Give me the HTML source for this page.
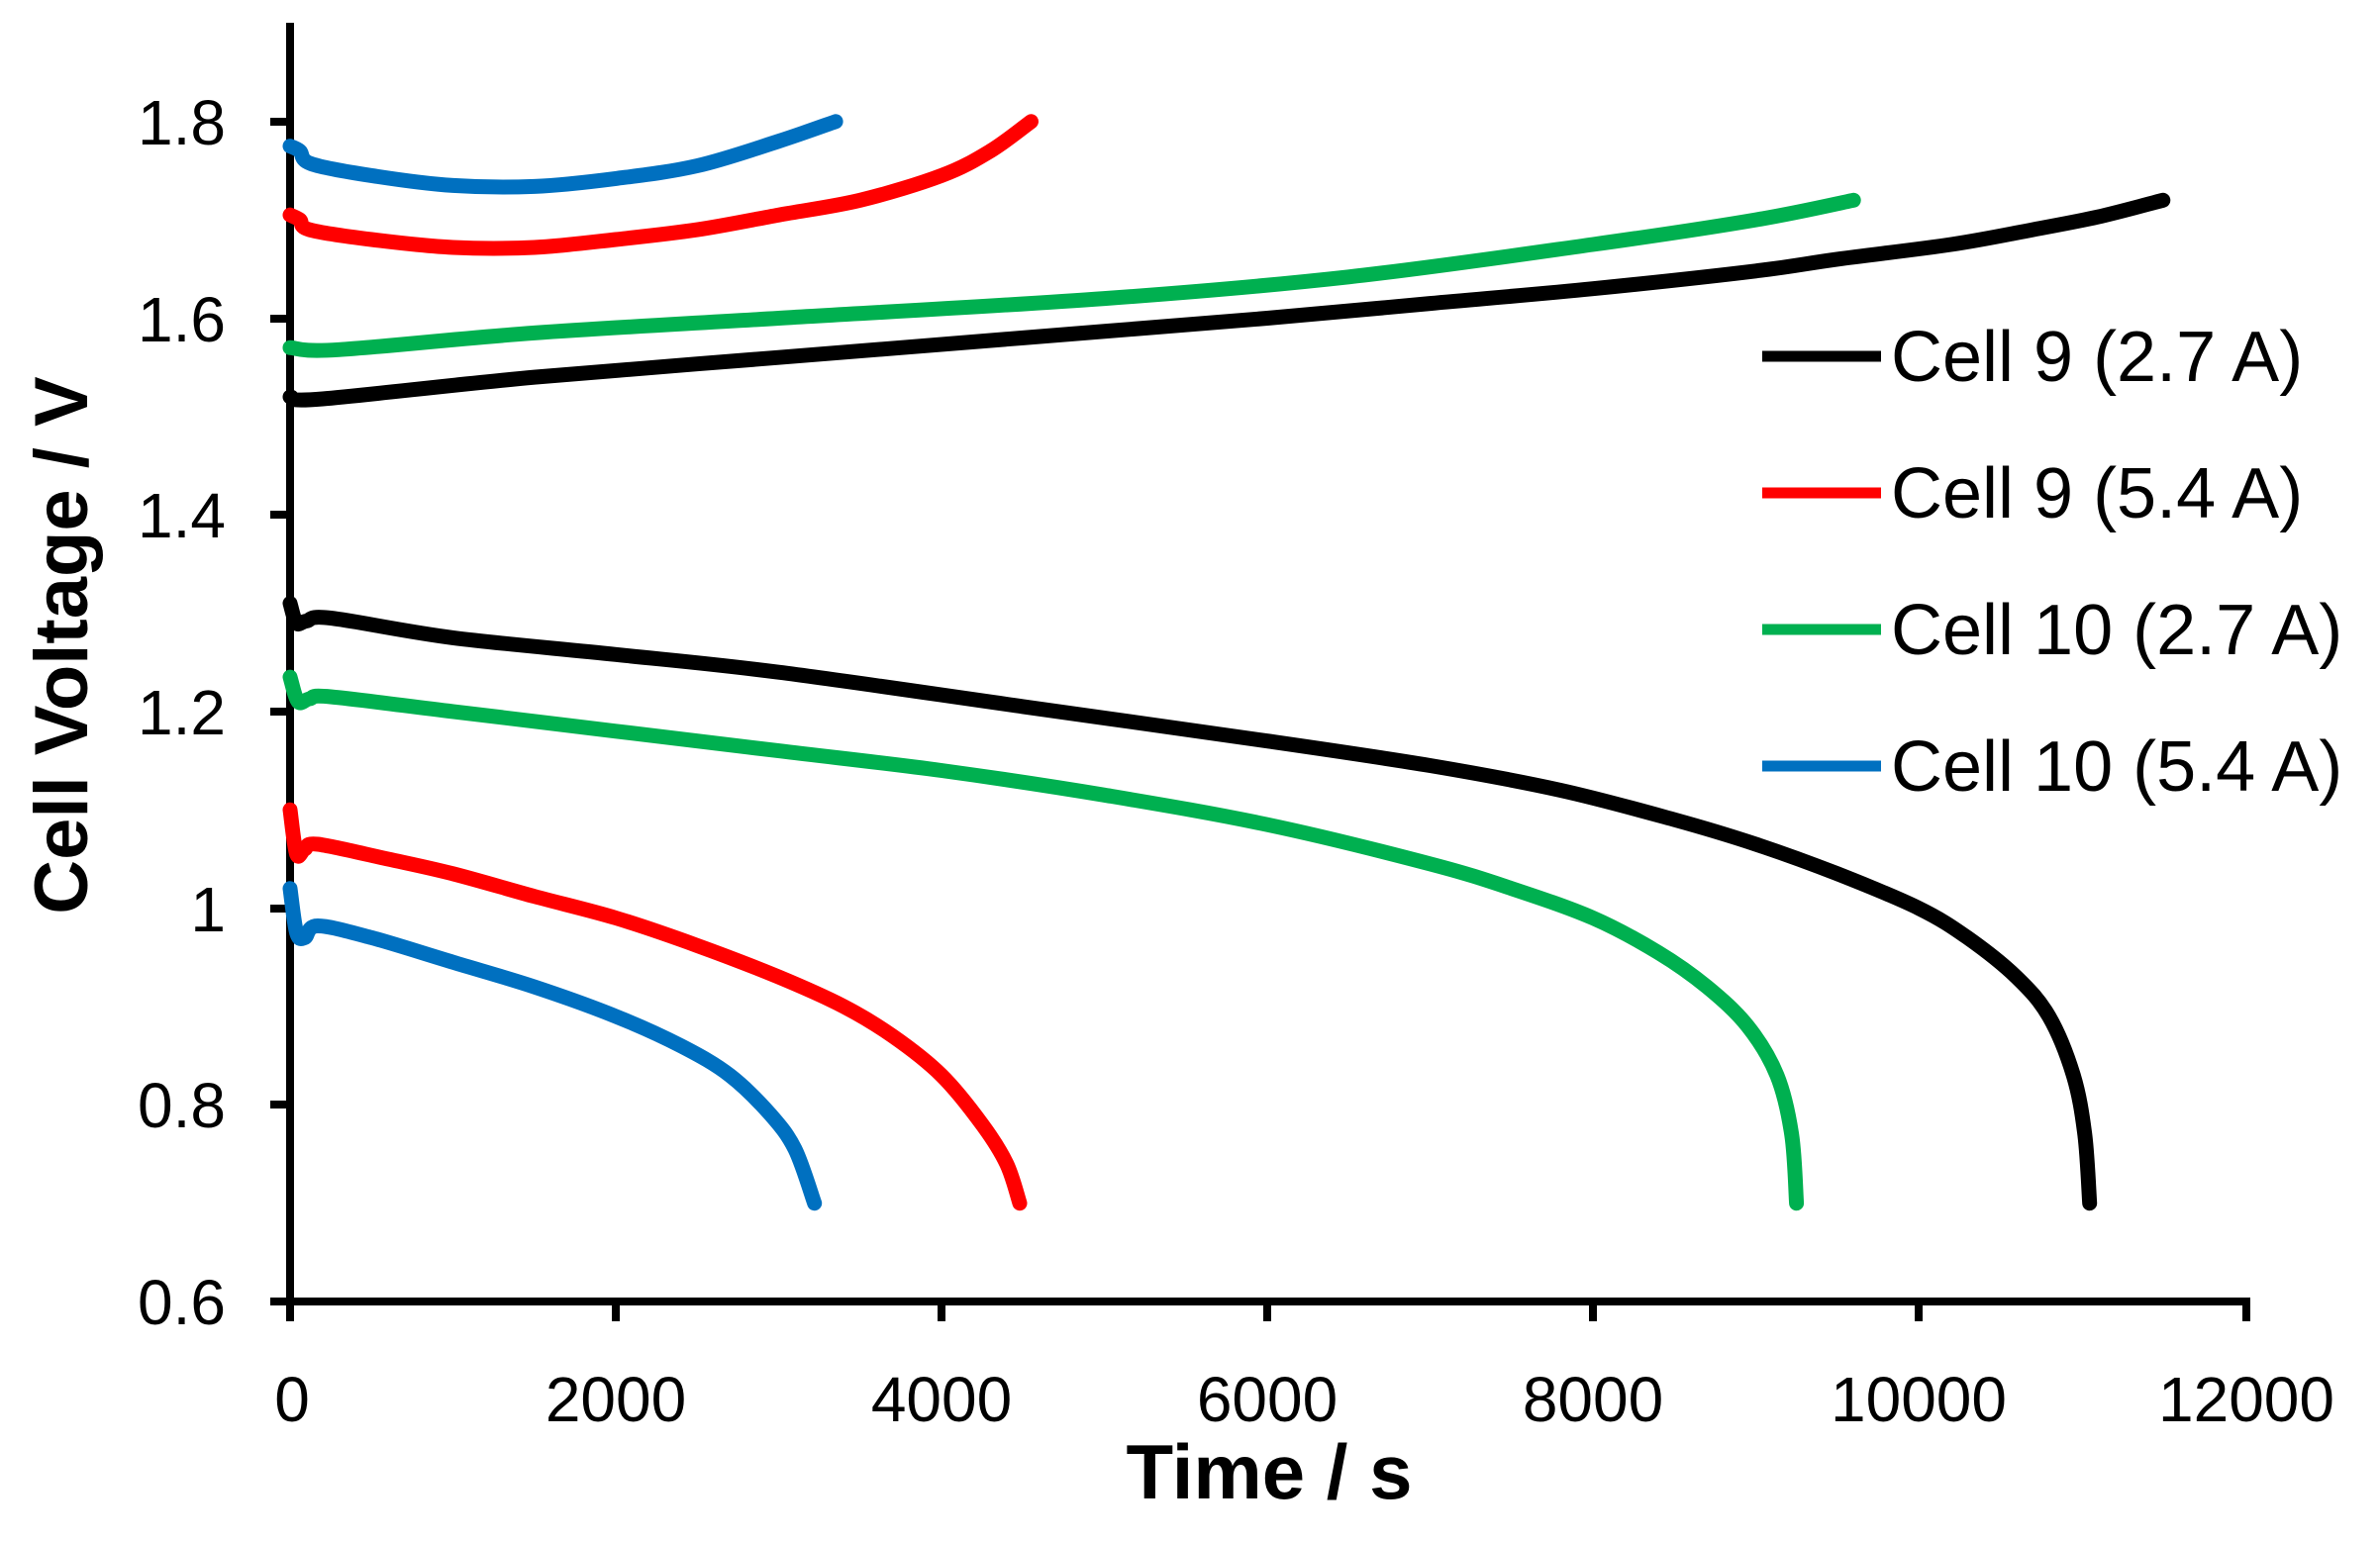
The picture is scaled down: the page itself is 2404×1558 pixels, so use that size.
<!DOCTYPE html>
<html><head><meta charset="utf-8"><style>
html,body{margin:0;padding:0;background:#fff;width:2404px;height:1558px;overflow:hidden}
text{font-family:"Liberation Sans",sans-serif;fill:#000}
</style></head><body>
<svg id="s" width="2404" height="1558" viewBox="0 0 2404 1558" xmlns="http://www.w3.org/2000/svg">
<g stroke="#000" stroke-width="8" fill="none">
<line x1="293" y1="23" x2="293" y2="1335"/>
<line x1="273" y1="1315" x2="2273" y2="1315"/>
<line x1="273" y1="123" x2="293" y2="123"/>
<line x1="273" y1="322" x2="293" y2="322"/>
<line x1="273" y1="520" x2="293" y2="520"/>
<line x1="273" y1="719" x2="293" y2="719"/>
<line x1="273" y1="918" x2="293" y2="918"/>
<line x1="273" y1="1116" x2="293" y2="1116"/>
<line x1="622" y1="1315" x2="622" y2="1335"/>
<line x1="951" y1="1315" x2="951" y2="1335"/>
<line x1="1280" y1="1315" x2="1280" y2="1335"/>
<line x1="1609" y1="1315" x2="1609" y2="1335"/>
<line x1="1938" y1="1315" x2="1938" y2="1335"/>
<line x1="2269" y1="1315" x2="2269" y2="1335"/>
</g>
<g font-size="64" text-anchor="end">
<text x="228" y="146">1.8</text>
<text x="228" y="345">1.6</text>
<text x="228" y="543">1.4</text>
<text x="228" y="742">1.2</text>
<text x="228" y="941">1</text>
<text x="228" y="1139">0.8</text>
<text x="228" y="1338">0.6</text>
</g>
<g font-size="64" text-anchor="middle">
<text x="295" y="1436">0</text>
<text x="622" y="1436">2000</text>
<text x="951" y="1436">4000</text>
<text x="1280" y="1436">6000</text>
<text x="1609" y="1436">8000</text>
<text x="1938" y="1436">10000</text>
<text x="2269" y="1436">12000</text>
</g>
<text x="1282" y="1514" font-size="78" font-weight="bold" text-anchor="middle">Time / s</text>
<text transform="translate(88,652) rotate(-90)" font-size="76" font-weight="bold" text-anchor="middle">Cell Voltage / V</text>
<g id="curves" fill="none" stroke-width="15" stroke-linecap="round" stroke-linejoin="round"></g>
<g stroke-width="11">
<line x1="1780" y1="360" x2="1900" y2="360" stroke="#000"/>
<line x1="1780" y1="498" x2="1900" y2="498" stroke="#ff0000"/>
<line x1="1780" y1="636" x2="1900" y2="636" stroke="#00b050"/>
<line x1="1780" y1="774" x2="1900" y2="774" stroke="#0070c0"/>
</g>
<g font-size="72">
<text x="1910" y="385">Cell 9 (2.7 A)</text>
<text x="1910" y="523">Cell 9 (5.4 A)</text>
<text x="1910" y="661">Cell 10 (2.7 A)</text>
<text x="1910" y="799">Cell 10 (5.4 A)</text>
</g>
</svg>
<script>
var X=t=>293+t*0.1645, Y=v=>1315-(v-0.6)*993.5;
var S=[
["#000",[[0,1.52],[200,1.518],[1500,1.54],[3000,1.56],[4500,1.58],[6000,1.60],[7000,1.615],[8000,1.63],[9000,1.648],[9500,1.66],[10200,1.675],[10700,1.69],[11100,1.703],[11500,1.72]]],
["#00b050",[[0,1.57],[300,1.568],[1500,1.585],[3000,1.60],[5000,1.62],[6500,1.642],[8000,1.675],[9000,1.70],[9600,1.72]]],
["#ff0000",[[0,1.705],[60,1.70],[120,1.69],[500,1.68],[1000,1.672],[1500,1.672],[2000,1.68],[2500,1.69],[3000,1.705],[3500,1.72],[4000,1.745],[4300,1.77],[4550,1.80]]],
["#0070c0",[[0,1.775],[60,1.77],[130,1.757],[500,1.745],[1000,1.735],[1500,1.734],[2000,1.742],[2500,1.755],[3000,1.78],[3350,1.80]]],
["#000",[[0,1.31],[40,1.29],[100,1.292],[250,1.295],[1000,1.275],[2000,1.258],[3000,1.24],[4500,1.205],[6000,1.17],[7000,1.145],[7800,1.12],[8500,1.09],[9000,1.065],[9500,1.035],[10000,1.0],[10300,0.97],[10600,0.93],[10800,0.89],[10950,0.83],[11020,0.77],[11050,0.7]]],
["#00b050",[[0,1.235],[50,1.21],[120,1.213],[250,1.215],[1000,1.2],[2000,1.18],[3000,1.16],[4000,1.14],[5000,1.115],[6000,1.085],[7000,1.045],[7500,1.02],[8000,0.99],[8400,0.955],[8700,0.92],[8950,0.88],[9130,0.83],[9220,0.77],[9250,0.7]]],
["#ff0000",[[0,1.10],[40,1.055],[90,1.06],[170,1.065],[600,1.05],[1000,1.035],[1500,1.012],[2000,0.99],[2500,0.962],[3000,0.93],[3400,0.9],[3700,0.87],[4000,0.83],[4250,0.78],[4400,0.74],[4480,0.7]]],
["#0070c0",[[0,1.02],[40,0.975],[90,0.97],[170,0.982],[500,0.97],[1000,0.945],[1500,0.92],[2000,0.89],[2400,0.86],[2700,0.83],[2950,0.79],[3100,0.755],[3220,0.7]]]
];
var g=document.getElementById('curves');
S.forEach(function(s){
var P=s[1].map(a=>[X(a[0]),Y(a[1])]);
var d='M'+P[0][0].toFixed(1)+','+P[0][1].toFixed(1);
for(var i=0;i<P.length-1;i++){
var p0=P[Math.max(i-1,0)],p1=P[i],p2=P[i+1],p3=P[Math.min(i+2,P.length-1)];
var c1=[p1[0]+(p2[0]-p0[0])/6,p1[1]+(p2[1]-p0[1])/6];
var c2=[p2[0]-(p3[0]-p1[0])/6,p2[1]-(p3[1]-p1[1])/6];
d+=' C'+c1[0].toFixed(1)+','+c1[1].toFixed(1)+' '+c2[0].toFixed(1)+','+c2[1].toFixed(1)+' '+p2[0].toFixed(1)+','+p2[1].toFixed(1);}
var p=document.createElementNS('http://www.w3.org/2000/svg','path');
p.setAttribute('d',d);p.setAttribute('stroke',s[0]);g.appendChild(p);});
</script>
</body></html>
